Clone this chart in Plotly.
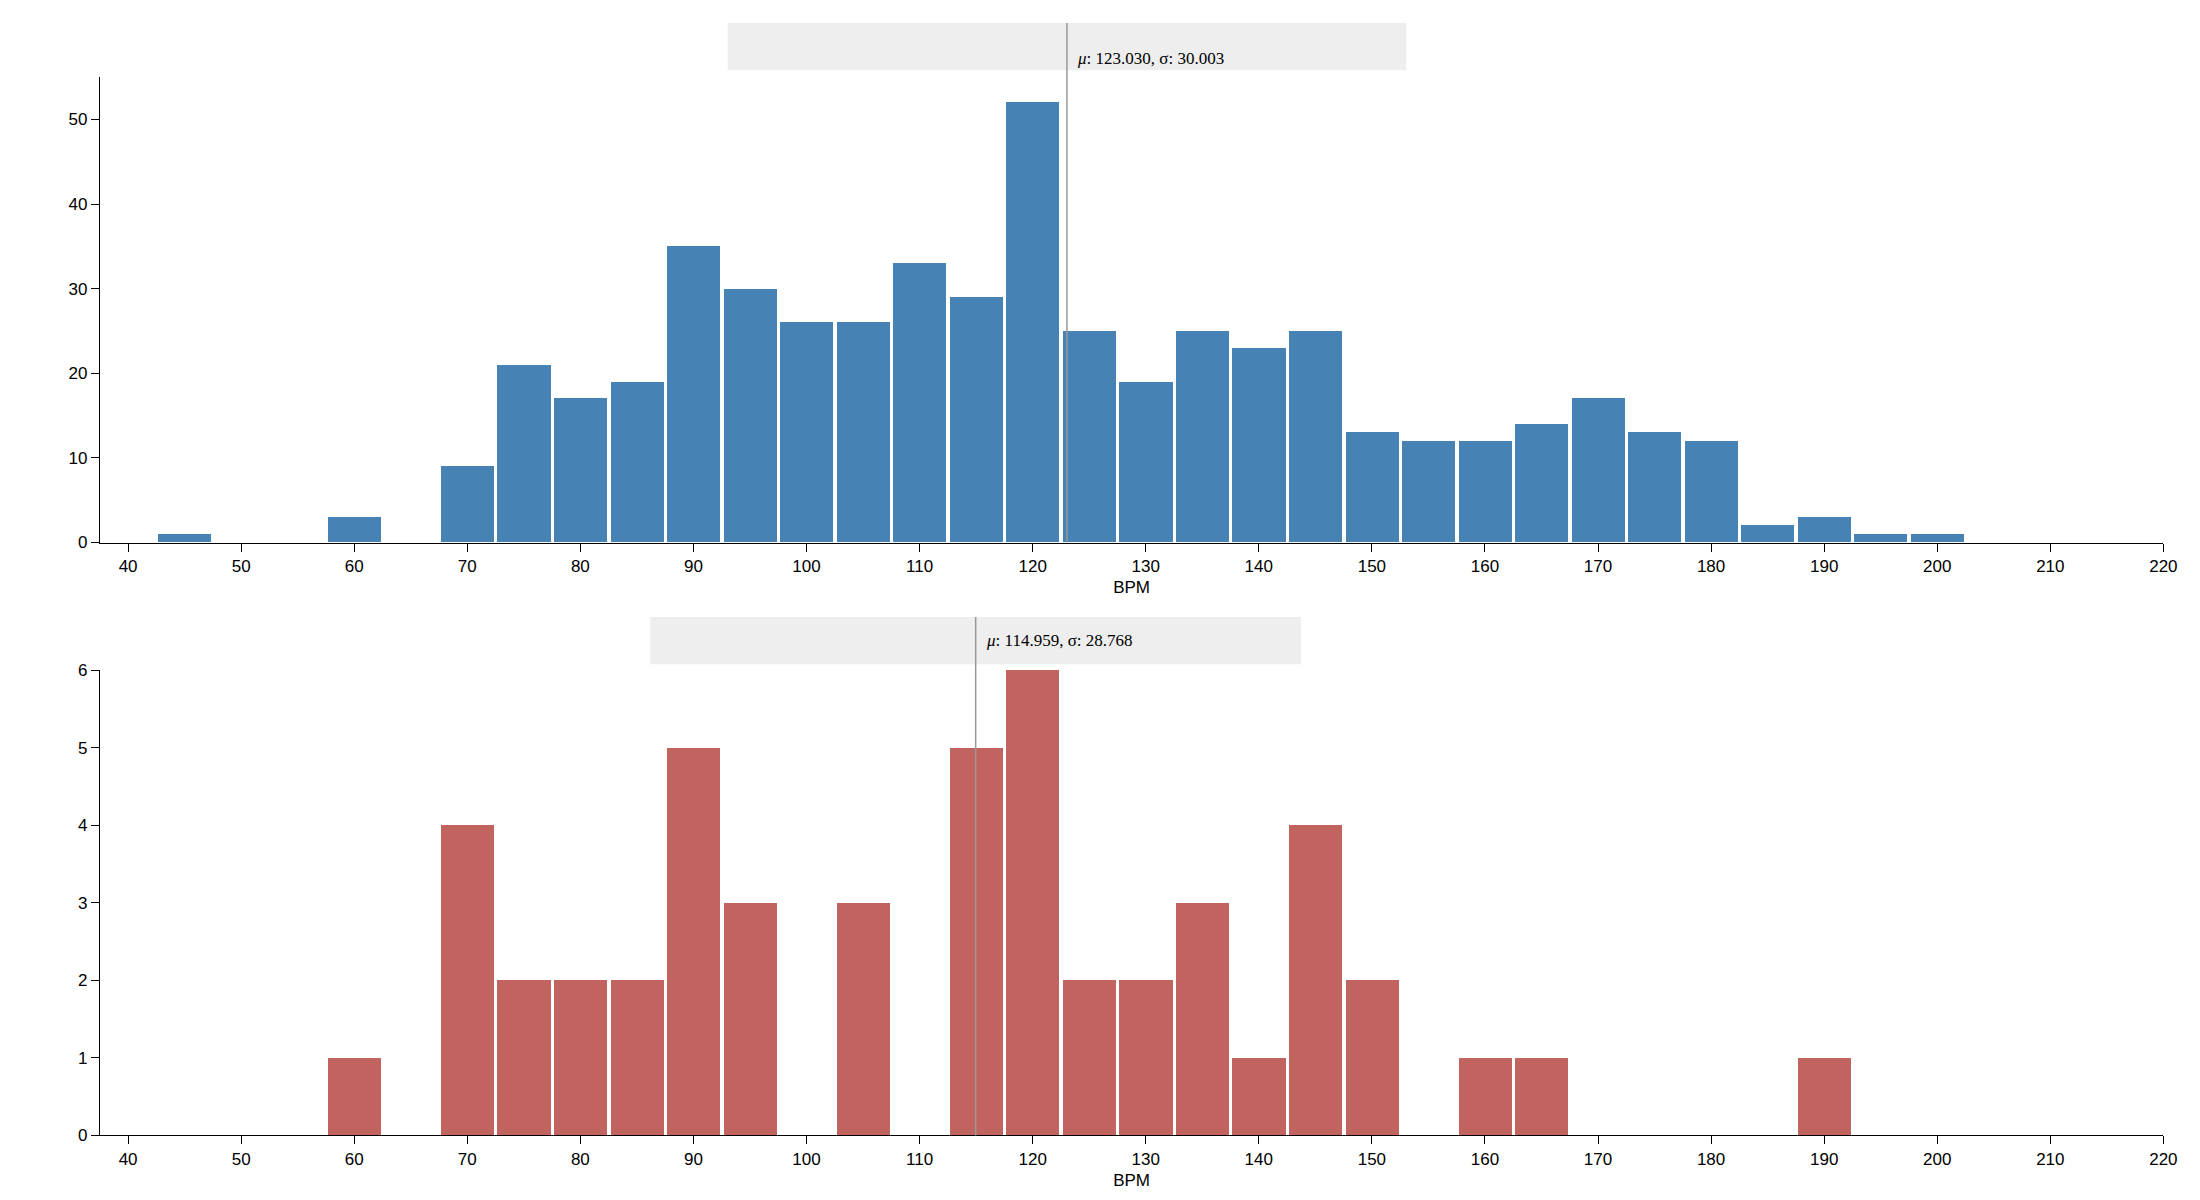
import plotly.graph_objects as go
from plotly.subplots import make_subplots

bpm_top = [45, 50, 55, 60, 65, 70, 75, 80, 85, 90, 95, 100, 105, 110, 115, 120, 125, 130,
           135, 140, 145, 150, 155, 160, 165, 170, 175, 180, 185, 190, 195, 200]
count_top = [1, 0, 0, 3, 0, 9, 21, 17, 19, 35, 30, 26, 26, 33, 29, 52, 25, 19,
             25, 23, 25, 13, 12, 12, 14, 17, 13, 12, 2, 3, 1, 1]

bpm_bottom = [60, 70, 75, 80, 85, 90, 95, 105, 115, 120, 125, 130, 135, 140, 145, 150, 160, 165, 190]
count_bottom = [1, 4, 2, 2, 2, 5, 3, 3, 5, 6, 2, 2, 3, 1, 4, 2, 1, 1, 1]

mean_top, sd_top = 123.030, 30.003
mean_bottom, sd_bottom = 114.959, 28.768

fig = make_subplots(rows=2, cols=1)
fig.add_trace(go.Bar(x=bpm_top, y=count_top, width=4.7, marker_color='#4682b4',
                     marker_line_width=0), row=1, col=1)
fig.add_trace(go.Bar(x=bpm_bottom, y=count_bottom, width=4.7, marker_color='#c1635f',
                     marker_line_width=0), row=2, col=1)

axis_font = dict(family='Liberation Sans, Arial', size=17, color='black')
for r, dom, yr, dt in [(1, [0.555, 0.949], [0, 55], 10), (2, [0.053, 0.447], [0, 6], 1)]:
    fig.update_xaxes(row=r, col=1, domain=[0.042, 0.986], range=[37.5, 220], dtick=10, tick0=0,
                     showline=True, linecolor='black', ticks='outside', ticklen=8, tickcolor='black',
                     showgrid=False, zeroline=False, tickfont=axis_font,
                     title=dict(text='BPM', font=axis_font, standoff=6))
    fig.update_yaxes(row=r, col=1, domain=dom, range=yr, dtick=dt, showline=True, linecolor='black',
                     ticks='outside', ticklen=8, tickcolor='black', showgrid=False, zeroline=False,
                     tickfont=axis_font)

shapes = []
annotations = []
for xref, yref_dom, mu, sd, box in [('x', 0.555, mean_top, sd_top, (0.955, 0.995)),
                                    ('x2', 0.053, mean_bottom, sd_bottom, (0.452, 0.492))]:
    shapes.append(dict(type='rect', xref=xref, yref='paper', x0=mu - sd, x1=mu + sd,
                       y0=box[0], y1=box[1], fillcolor='#eeeeee', line_width=0, layer='below'))
    shapes.append(dict(type='line', xref=xref, yref='paper', x0=mu, x1=mu, y0=yref_dom, y1=box[1],
                       line=dict(color='#999999', width=1.5)))
    annotations.append(dict(xref=xref, yref='paper', x=mu, y=(box[0] + box[1]) / 2, xanchor='left',
                            xshift=8, showarrow=False,
                            text='<i>μ</i>: %.3f, σ: %.3f' % (mu, sd),
                            font=dict(family='Liberation Serif, Times New Roman', size=17, color='black')))

fig.update_layout(width=2200, height=1200, showlegend=False, plot_bgcolor='white',
                  paper_bgcolor='white', margin=dict(l=0, r=0, t=0, b=0),
                  shapes=shapes, annotations=annotations, bargap=0)
fig.write_html("out.html")
